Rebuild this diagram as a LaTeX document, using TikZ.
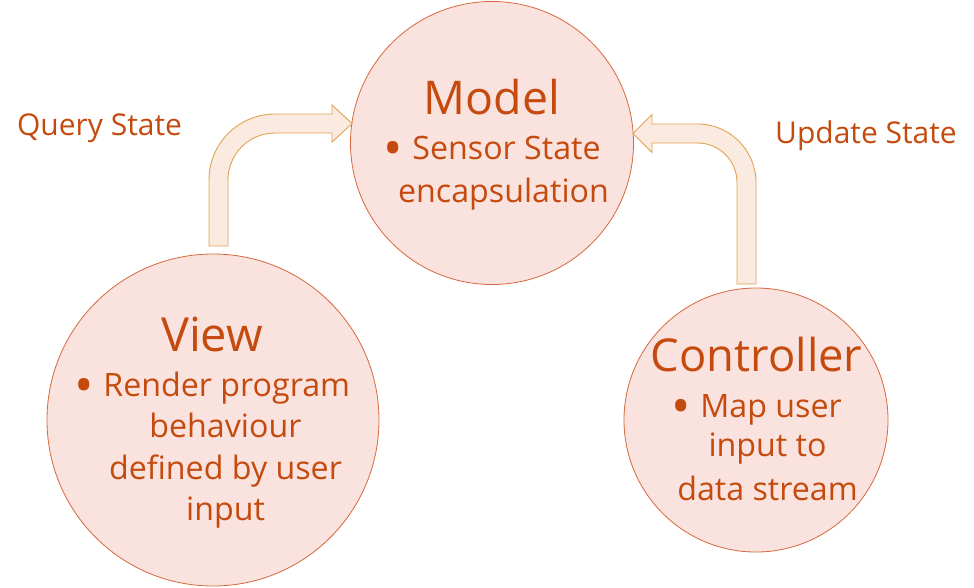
\documentclass[tikz,border=0pt]{standalone}
\usepackage{fontspec}
\setmainfont{Open Sans}
\definecolor{txt}{RGB}{197,74,14}
\definecolor{cfill}{RGB}{250,226,222}
\definecolor{cdraw}{RGB}{214,104,60}
\definecolor{afill}{RGB}{251,234,223}
\definecolor{adraw}{RGB}{226,162,84}
\newcommand{\bul}{\raisebox{-7pt}{\scalebox{1.6}{•}}\hspace{0.3em}}
\begin{document}
\begin{tikzpicture}[x=1pt,y=-1pt,
  bubble/.style={circle,draw=cdraw,fill=cfill,line width=0.8pt,inner sep=0pt},
  title/.style={anchor=base,inner sep=0pt,text=txt,font=\fontsize{46.5}{56}\selectfont},
  body/.style={anchor=base,inner sep=0pt,text=txt,font=\fontsize{32.2}{38}\selectfont},
  lbl/.style={anchor=base,inner sep=0pt,text=txt,font=\fontsize{30}{36}\selectfont},
  blockarrow/.style={draw=adraw,fill=afill,line width=0.9pt,line join=miter}]
\useasboundingbox (0,0) rectangle (974,587);
% circles
\node[bubble,minimum size=283pt] (model) at (492,143) {};
\node[bubble,minimum size=332pt] (view) at (213,420) {};
\node[bubble,minimum size=264pt] (ctrl) at (756,420) {};
% block arrows
\draw[blockarrow] (209,246) -- (209,180)
  .. controls (209,143.5) and (238.5,114) .. (275,114)
  -- (332,114) -- (332,105) -- (352,123.5) -- (332,142) -- (332,133) -- (275,133)
  .. controls (249,133) and (228,154) .. (228,180)
  -- (228,246) -- cycle;
\draw[blockarrow] (756,284) -- (756,182.5)
  .. controls (756,150.2) and (729.8,124) .. (697.5,124)
  -- (652,124) -- (652,114.5) -- (633,133.5) -- (652,152.5) -- (652,143) -- (697.5,143)
  .. controls (719.3,143) and (737,160.7) .. (737,182.5)
  -- (737,284) -- cycle;
% labels
\node[lbl] (query) at (99.5,135) {Query State};
\node[lbl] (update) at (866,143.3) {Update State};
% model text
\node[title] (mt) at (492,114) {Model};
\node[body] (m1) at (492,159) {\bul Sensor State};
\node[body] (m2) at (503.5,202) {encapsulation};
% view text
\node[title,font=\fontsize{47}{56}\selectfont] (vt) at (212,351) {View};
\node[body] (v1) at (212.3,396.7) {\bul Render program};
\node[body] (v2) at (225.4,437) {behaviour};
\node[body] (v3) at (225.5,479) {defined by user};
\node[body] (v4) at (225.5,520) {input};
% controller text
\node[title,font=\fontsize{45.3}{54}\selectfont] (ct) at (756.7,371.7) {Controller};
\node[body] (c1) at (756.5,417.3) {\bul Map user};
\node[body] (c2) at (767.5,456.7) {input to};
\node[body] (c3) at (767.5,500.7) {data stream};
\end{tikzpicture}
\end{document}
